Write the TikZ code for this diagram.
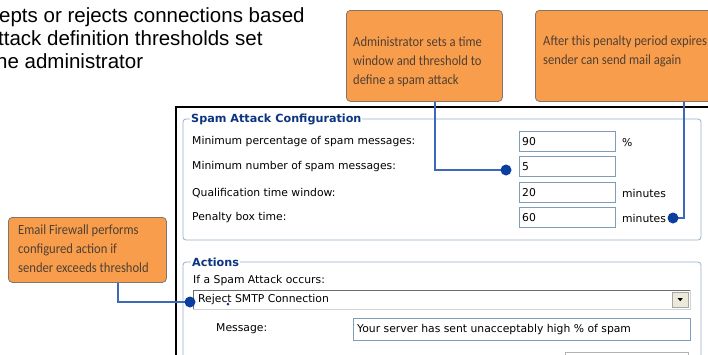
\documentclass[tikz,border=0pt]{standalone}
\usepackage{fontspec}
\setmainfont{Liberation Sans}
\newfontfamily\calloutfont[FakeStretch=0.9]{Carlito}
\newfontfamily\uifont{DejaVu Sans}

\definecolor{calloutfill}{RGB}{248,157,76}
\definecolor{calloutedge}{RGB}{128,118,108}
\definecolor{callouttext}{RGB}{80,64,50}
\definecolor{groupedge}{RGB}{150,175,205}
\definecolor{grouptitle}{RGB}{12,52,128}
\definecolor{fieldedge}{RGB}{127,157,185}
\definecolor{pincolor}{RGB}{12,62,160}
\definecolor{leadercolor}{RGB}{62,104,184}
\definecolor{btnface}{RGB}{236,233,216}

\tikzset{
  callout/.style={draw=calloutedge, fill=calloutfill, rounded corners=4pt,
    line width=0.8pt, anchor=north west, inner sep=0pt},
  callouttxt/.style={font=\calloutfont\fontsize{14}{19}\selectfont, text=callouttext,
    align=left, anchor=north west, inner sep=0pt},
  intro/.style={font=\fontsize{20.5}{23}\selectfont, anchor=base west, inner sep=0pt},
  groupbox/.style={draw=groupedge, rounded corners=3pt, line width=0.8pt},
  grouplabel/.style={font=\uifont\bfseries\fontsize{11.2}{13}\selectfont, text=grouptitle,
    fill=white, anchor=west, inner sep=1pt},
  uilabel/.style={font=\uifont\fontsize{10.8}{12}\selectfont, anchor=west, inner sep=0pt},
  field/.style={draw=fieldedge, fill=white, line width=0.7pt, anchor=north west,
    minimum width=96pt, minimum height=20pt, inner sep=0pt},
  fieldtxt/.style={font=\uifont\fontsize{10.8}{12}\selectfont, anchor=west, inner sep=0pt},
  leader/.style={draw=leadercolor, line width=1.5pt},
  pin/.style={circle, fill=pincolor, inner sep=0pt, minimum size=11pt},
}

\begin{document}
\begin{tikzpicture}[x=1pt, y=-1pt]
\useasboundingbox (0,0) rectangle (708,354);
\clip (0,0) rectangle (708,354);

% introductory sentence, running in from the left edge
\node[intro] (introA) at (-1,22) {epts or rejects connections based};
\node[intro] (introB) at (-2,45) {ttack definition thresholds set};
\node[intro] (introC) at (-4,68) {he administrator};

% dialog window frame
\draw[line width=2pt] (176,360) -- (176,107) -- (712,107);

% group: spam attack configuration
\draw[groupbox] (183,119) rectangle (701,240);
\node[grouplabel] (cfgtitle) at (190,119) {Spam Attack Configuration};

\node[uilabel] (lblA) at (192,142) {Minimum percentage of spam messages:};
\node[uilabel] (lblB) at (192,167) {Minimum number of spam messages:};
\node[uilabel] (lblC) at (192,193) {Qualification time window:};
\node[uilabel] (lblD) at (192,218) {Penalty box time:};

\node[field] (fA) at (519,131) {};
\node[field] (fB) at (519,156) {};
\node[field] (fC) at (519,182) {};
\node[field] (fD) at (519,207) {};
\node[fieldtxt] (vA) at ([xshift=3pt]fA.west) {90};
\node[fieldtxt] (vB) at ([xshift=3pt]fB.west) {5};
\node[fieldtxt] (vC) at ([xshift=3pt]fC.west) {20};
\node[fieldtxt] (vD) at ([xshift=3pt]fD.west) {60};

\node[uilabel] (uA) at (622,143) {\%};
\node[uilabel] (uC) at (622,193) {minutes};
\node[uilabel] (uD) at (622,218) {minutes};

% group: actions
\draw[groupbox] (183,262) rectangle (701,380);
\node[grouplabel] (acttitle) at (191,262) {Actions};
\node[uilabel] (lblE) at (193,281) {If a Spam Attack occurs:};

% drop-down list
\fill[white] (193,290) rectangle (690,309);
\draw[gray!85!black, line width=1pt] (193,309) -- (193,290) -- (690,290);
\draw[gray!35, line width=0.8pt] (690,290) -- (690,309) -- (193,309);
\node[draw=gray!70, fill=btnface, anchor=north west, minimum width=16pt,
  minimum height=15pt, inner sep=0pt] (dropbtn) at (672,292) {};
\fill ([xshift=-2.5pt,yshift=1.5pt]dropbtn.center) -- ([xshift=2.5pt,yshift=1.5pt]dropbtn.center)
  -- ([yshift=-1.5pt]dropbtn.center) -- cycle;
\node[uilabel] (actval) at (198,300) {Reject SMTP Connection};
\node[circle, fill=pincolor, inner sep=0pt, minimum size=3pt] (cursor) at (228,304) {};

\node[uilabel] (lblF) at (216,329) {Message:};
\node[draw=fieldedge, fill=white, line width=0.7pt, anchor=north west,
  minimum width=337pt, minimum height=22pt, inner sep=0pt] (msgbox) at (353,318) {};
\node[fieldtxt] (msgtxt) at ([xshift=4pt]msgbox.west) {Your server has sent unacceptably high \% of spam};

% next control, cut off at the bottom
\draw[gray!60, line width=0.7pt] (565,360) -- (565,352) -- (688,352) -- (688,360);

% callouts
\node[callout, minimum width=156pt, minimum height=91pt] (noteA) at (346,10) {};
\node[callouttxt] (noteAtxt) at (353,37) {Administrator sets a time\\window and threshold to\\define a spam attack};

\node[callout, minimum width=190pt, minimum height=91pt] (noteB) at (535,10) {};
\node[callouttxt] (noteBtxt) at (543,36) {After this penalty period expires\\sender can send mail again};

\node[callout, minimum width=158pt, minimum height=65pt] (noteC) at (8,217) {};
\node[callouttxt] (noteCtxt) at (18,225) {Email Firewall performs\\configured action if\\sender exceeds threshold};

% leader lines, with the pins on top of their ends
\draw[leader] ([xshift=89pt]noteA.south west) |- (506,170) coordinate (endA);
\draw[leader] ([xshift=149pt]noteB.south west) |- (673,218) coordinate (endB);
\draw[leader] ([xshift=110pt]noteC.south west) |- (190,302) coordinate (endC);
\node[pin] (pinA) at (endA) {};
\node[pin] (pinB) at (endB) {};
\node[pin] (pinC) at (endC) {};
\end{tikzpicture}
\end{document}
